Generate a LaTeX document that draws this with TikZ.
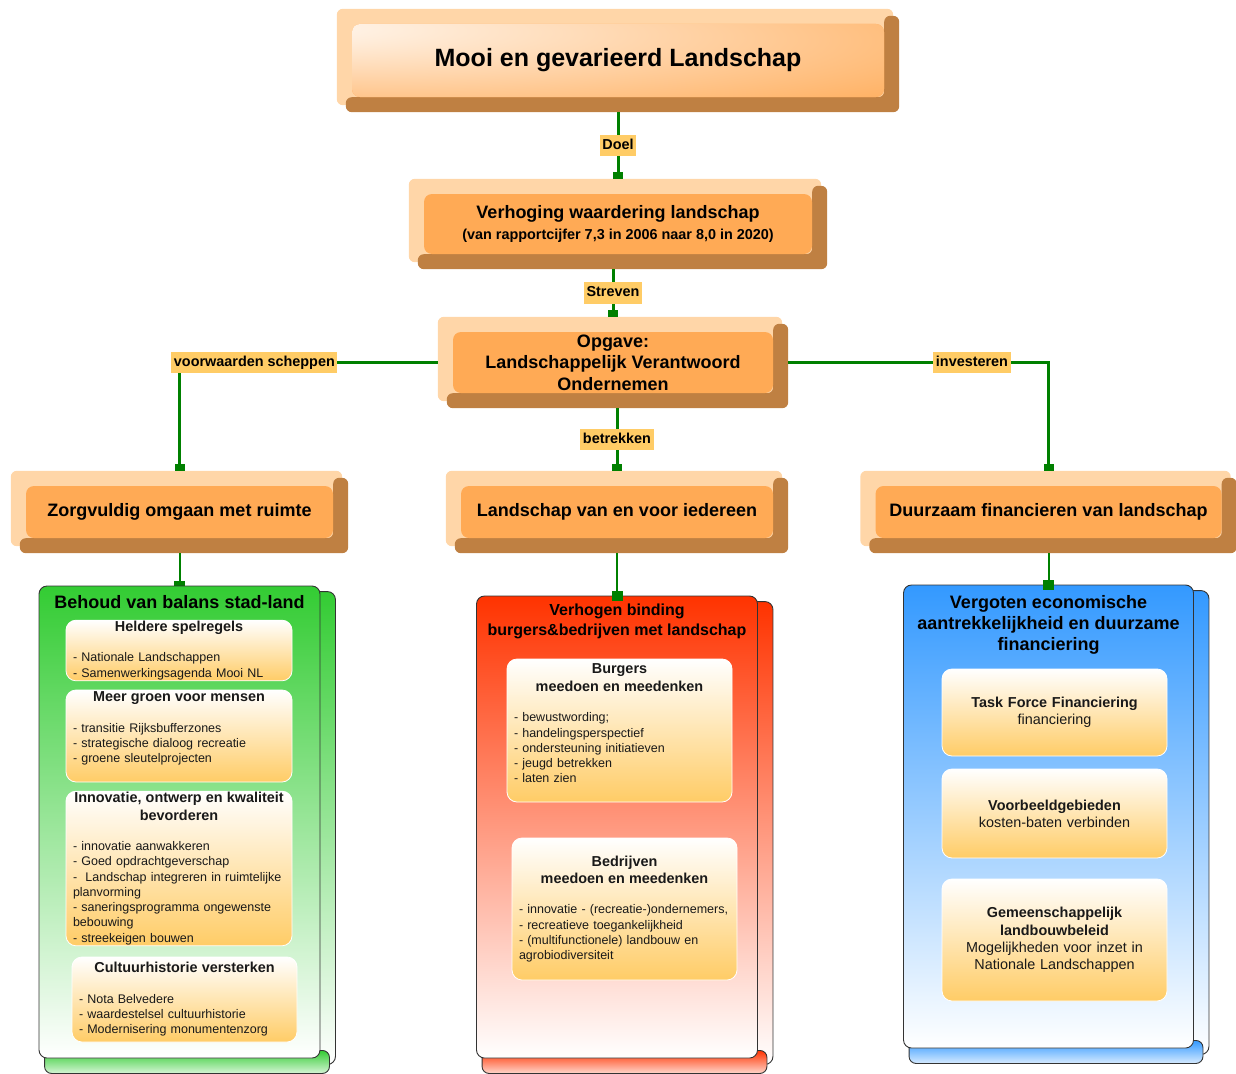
\documentclass[tikz,border=0pt]{standalone}
\usepackage{fontspec}
\setmainfont{Liberation Sans}
\usepackage{tikz}
\usetikzlibrary{arrows.meta,positioning,backgrounds}
\definecolor{plaat}{HTML}{FFD6A8}
\definecolor{bruin}{HTML}{BF8042}
\definecolor{oranje}{HTML}{FFAA55}
\definecolor{geel}{HTML}{FFCC66}
\definecolor{lijn}{HTML}{008000}
\definecolor{groen}{HTML}{33CC33}
\definecolor{rood}{HTML}{FF3300}
\definecolor{blauw}{HTML}{3399FF}
\colorlet{glanslicht}{white!85!oranje}
\pgfdeclareradialshading{glans}{\pgfpoint{-34bp}{24bp}}{color(0bp)=(white); color(6bp)=(glanslicht); color(60bp)=(oranje); color(100bp)=(oranje)}
\tikzstyle{vlak}=[fill=oranje, rounded corners=8pt, align=center, inner sep=0pt, font=\bfseries\fontsize{18}{21.5}\selectfont]
\tikzstyle{etiket}=[fill=geel, inner xsep=2.5pt, inner ysep=4pt, text height=10.5pt, text depth=3pt, text=black, font=\bfseries\fontsize{14.4}{17}\selectfont]
\tikzstyle{verbinding}=[lijn, line width=3pt, -{Rectangle[width=10pt,length=7pt]}]
\tikzstyle{tak}=[lijn, line width=2pt, shorten >=-5pt, -{Rectangle[width=11pt,length=10pt]}]
\tikzstyle{paneel}=[draw=black!80, line width=0.9pt, rounded corners=8pt, inner sep=0pt]
\tikzstyle{kop}=[align=center, inner sep=0pt, font=\bfseries\fontsize{18}{21}\selectfont]
\tikzstyle{kaart}=[draw=white, line width=0.8pt, rounded corners=10pt, top color=white, bottom color=geel, align=left, inner xsep=7pt, inner ysep=1pt, text width=211pt, text=black!90, font=\fontsize{12.5}{15.3}\selectfont]
\tikzstyle{fkaart}=[kaart, align=center, minimum width=225pt, font=\fontsize{14.4}{17.3}\selectfont]
\newcommand{\kt}[1]{{\centering\bfseries\fontsize{14.4}{17.5}\selectfont #1\par}\vspace{15pt}}
\newcommand{\knop}[7][]{
  \node[vlak, #1, minimum width=#5, minimum height=#6] (#2) at (#3,#4) {#7};
  \begin{pgfonlayer}{background}
    \fill[plaat, rounded corners=6pt] ([xshift=-15pt,yshift=15pt]#2.north west) rectangle ([xshift=9pt,yshift=-8pt]#2.south east);
    \fill[bruin, rounded corners=6pt] ([yshift=8pt]#2.north east) -- ([xshift=15pt,yshift=8pt]#2.north east) -- ([xshift=15pt,yshift=-15pt]#2.south east) -- ([xshift=-6pt,yshift=-15pt]#2.south west) -- ([xshift=-6pt]#2.south west) -- (#2.south east) -- cycle;
  \end{pgfonlayer}
  \coordinate (#2-n) at ([yshift=15pt]#2.north);
  \coordinate (#2-s) at ([yshift=-15pt]#2.south);
  \coordinate (#2-w) at ([xshift=-15pt]#2.west);
  \coordinate (#2-e) at ([xshift=15pt]#2.east);
}
\newcommand{\blad}[6]{
  \node[paneel, top color=#6, bottom color=white, minimum width=#4, minimum height=#5] (#1) at (#2,#3) {};
  \begin{pgfonlayer}{background}
    \draw[paneel, top color=#6, bottom color=white] ([xshift=-12pt,yshift=-6pt]#1.north east) rectangle ([xshift=15pt,yshift=-6pt]#1.south east);
    \draw[paneel, rounded corners=7pt, top color=#6, bottom color=white!80!#6] ([xshift=6pt,yshift=8pt]#1.south west) rectangle ([xshift=9pt,yshift=-15pt]#1.south east);
  \end{pgfonlayer}
}

\begin{document}
\begin{tikzpicture}[x=1pt,y=-1pt]
    \useasboundingbox (0,0) rectangle (1236,1073);

    \knop[shading=glans]{mooi}{618}{60.5}{532pt}{73pt}{\fontsize{25}{30}\selectfont Mooi en gevarieerd Landschap}
    \knop{verh}{618}{224}{388pt}{60pt}{Verhoging waardering landschap\\{\fontsize{14.4}{17}\selectfont (van rapportcijfer 7,3 in 2006 naar 8,0 in 2020)}}
    \knop{opg}{613}{362.5}{320pt}{61pt}{Opgave:\\Landschappelijk Verantwoord\\Ondernemen}
    \knop{zorg}{179.5}{512}{307pt}{52pt}{Zorgvuldig omgaan met ruimte}
    \knop{iedereen}{617}{512}{312pt}{52pt}{Landschap van en voor iedereen}
    \knop{duurzaam}{1048.5}{512}{346pt}{52pt}{Duurzaam financieren van landschap}

    \draw[verbinding] (mooi-s) -- node[etiket]{Doel} (verh-n);
    \draw[verbinding] (opg-n |- verh-s) -- node[etiket]{Streven} (opg-n);
    \draw[verbinding] (iedereen-n |- opg-s) -- node[etiket]{betrekken} (iedereen-n);
    \draw[verbinding] (opg-w) -| node[etiket, pos=.355]{voorwaarden scheppen} (zorg-n);
    \draw[verbinding] (opg-e) -| node[etiket, pos=.353]{investeren} (duurzaam-n);

    \coordinate (balanstop) at (179.5,586);
    \draw[tak] (zorg-s) -- (balanstop);
    \blad{balans}{179.5}{822}{281pt}{472pt}{groen}
    \blad{binding}{617}{827}{281pt}{462pt}{rood}
    \blad{vergoten}{1048.5}{816.5}{290pt}{463pt}{blauw}
    \draw[tak] (iedereen-s) -- (binding.north);
    \draw[tak] (duurzaam-s) -- (vergoten.north);

    \node[kop, below=10pt of balans.north] (balanskop) {Behoud van balans stad-land};
    \node[kop, font=\bfseries\fontsize{16}{20}\selectfont, below=8pt of binding.north] (bindingkop) {Verhogen binding\\burgers\&bedrijven met landschap};
    \node[kop, below=11pt of vergoten.north] (vergotenkop) {Vergoten economische\\aantrekkelijkheid en duurzame\\financiering};

    \node[kaart, minimum width=226pt, minimum height=59pt, text width=212pt] (spelregels) at (179,650.5) {\kt{Heldere spelregels}- Nationale Landschappen\\- Samenwerkingsagenda Mooi NL};
    \node[kaart, minimum width=226pt, minimum height=92pt, text width=212pt] (groen) at (179,736) {\kt{Meer groen voor mensen}- transitie Rijksbufferzones\\- strategische dialoog recreatie\\- groene sleutelprojecten\par\vspace{15pt}};
    \node[kaart, minimum width=226pt, minimum height=153pt, text width=212pt] (innovatie) at (179,868.5) {\kt{Innovatie, ontwerp en kwaliteit\\bevorderen}- innovatie aanwakkeren\\- Goed opdrachtgeverschap\\-\ \ Landschap integreren in ruimtelijke\\planvorming\\- saneringsprogramma ongewenste\\bebouwing\\- streekeigen bouwen};
    \node[kaart, minimum width=225pt, minimum height=85pt] (cultuur) at (184.5,999.5) {\kt{Cultuurhistorie versterken}- Nota Belvedere\\- waardestelsel cultuurhistorie\\- Modernisering monumentenzorg};

    \node[kaart, minimum width=225pt, minimum height=143pt] (burgers) at (619.5,730.5) {\kt{Burgers\\meedoen en meedenken}- bewustwording;\\- handelingsperspectief\\- ondersteuning initiatieven\\- jeugd betrekken\\- laten zien\par\vspace{14pt}};
    \node[kaart, minimum width=225pt, minimum height=142pt] (bedrijven) at (624.5,909) {\kt{Bedrijven\\meedoen en meedenken}- innovatie - (recreatie-)ondernemers,\\- recreatieve toegankelijkheid\\- (multifunctionele) landbouw en\\agrobiodiversiteit};

    \node[fkaart, minimum height=87pt] (taskforce) at (1054.5,712.5) {\textbf{Task Force Financiering}\\financiering};
    \node[fkaart, minimum height=89pt] (voorbeeld) at (1054.5,813.5) {\textbf{Voorbeeldgebieden}\\kosten-baten verbinden};
    \node[fkaart, minimum height=122pt] (glb) at (1054.5,940) {\textbf{Gemeenschappelijk}\\\textbf{landbouwbeleid}\\Mogelijkheden voor inzet in\\Nationale Landschappen};
\end{tikzpicture}
\end{document}
